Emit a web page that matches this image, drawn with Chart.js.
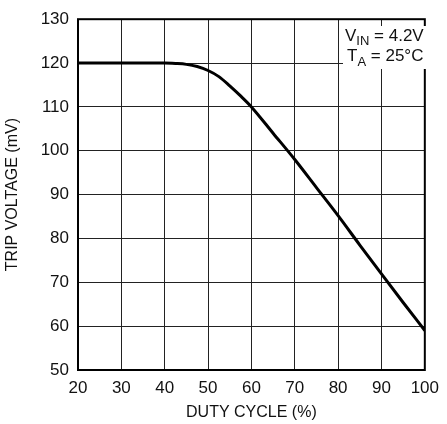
<!DOCTYPE html>
<html>
<head>
<meta charset="utf-8">
<script src="https://cdn.jsdelivr.net/npm/chart.js@4/dist/chart.umd.min.js"></script>
<style>
  html, body { margin: 0; padding: 0; background: #fff; }
  #wrap { width: 447px; height: 424px; }
</style>
</head>
<body>
<div id="wrap"><canvas id="grafico"></canvas></div>
<script>
// duty cycle (%) vs trip voltage (mV)
let dutyCycle = [20, 30, 40, 42.5, 45, 47.5, 50, 52.5, 55, 57.5, 60, 65, 70, 75, 80, 85, 90, 95, 100]
let tripVoltage = [120, 120, 120, 119.9, 119.7, 119.2, 118.3, 116.9, 114.8, 112.5, 110, 104, 98, 91.6, 85.2, 78.5, 71.9, 65.4, 59]
let xTicks = [20, 30, 40, 50, 60, 70, 80, 90, 100]
let yTicks = [50, 60, 70, 80, 90, 100, 110, 120, 130]

let fonte = "'Liberation Sans', Arial, sans-serif"

let pontos = []
for (let i = 0; i < dutyCycle.length; i++) {
    pontos.push({ x: dutyCycle[i], y: tripVoltage[i] })
}

// moldura + nota V_IN / T_A
let extras = {
    id: 'extras',
    afterDraw(chart) {
        let ctx = chart.ctx
        let a = chart.chartArea
        ctx.save()
        ctx.strokeStyle = '#000'
        ctx.lineWidth = 2
        ctx.strokeRect(a.left, a.top, a.right - a.left, a.bottom - a.top)

        ctx.fillStyle = '#fff'
        ctx.fillRect(343, 26, 83, 43)
        ctx.fillStyle = '#111'
        ctx.textBaseline = 'alphabetic'
        let x = 345
        ctx.font = '17px ' + fonte
        ctx.fillText('V', x, 41)
        x += ctx.measureText('V').width
        ctx.font = '13px ' + fonte
        ctx.fillText('IN', x, 45)
        x += ctx.measureText('IN').width
        ctx.font = '17px ' + fonte
        ctx.fillText(' = 4.2V', x, 41)

        x = 347
        ctx.fillText('T', x, 61)
        x += ctx.measureText('T').width
        ctx.font = '13px ' + fonte
        ctx.fillText('A', x, 66)
        x += ctx.measureText('A').width
        ctx.font = '17px ' + fonte
        ctx.fillText(' = 25°C', x, 61)
        ctx.restore()
    }
}

let ctx = document.getElementById('grafico').getContext('2d')
new Chart(ctx, {
    type: 'line',
    data: {
        datasets: [{
            data: pontos,
            borderColor: '#000',
            borderWidth: 3,
            pointRadius: 0,
            cubicInterpolationMode: 'monotone',
            fill: false
        }]
    },
    options: {
        responsive: true,
        maintainAspectRatio: false,
        animation: false,
        layout: { padding: { top: 19, right: 17, left: 0, bottom: 0 } },
        plugins: { legend: { display: false }, tooltip: { enabled: false } },
        scales: {
            x: {
                type: 'linear',
                min: 20,
                max: 100,
                afterBuildTicks: (s) => { s.ticks = xTicks.map(v => ({ value: v })) },
                afterFit: (s) => { s.height = 54 },
                grid: { color: '#222', lineWidth: 1, drawTicks: false },
                border: { display: false },
                ticks: { color: '#111', padding: 8, maxRotation: 0, font: { family: fonte, size: 17 } },
                title: { display: true, text: 'DUTY CYCLE (%)', color: '#111', padding: { top: 0, bottom: 2 }, font: { family: fonte, size: 16 } }
            },
            y: {
                min: 50,
                max: 130,
                afterBuildTicks: (s) => { s.ticks = yTicks.map(v => ({ value: v })) },
                afterFit: (s) => { s.width = 78 },
                grid: { color: '#222', lineWidth: 1, drawTicks: false },
                border: { display: false },
                ticks: { color: '#111', padding: 9, font: { family: fonte, size: 17 } },
                title: { display: true, text: 'TRIP VOLTAGE (mV)', color: '#111', padding: { top: 3, bottom: 0 }, font: { family: fonte, size: 16 } }
            }
        }
    },
    plugins: [extras]
})
</script>
</body>
</html>
